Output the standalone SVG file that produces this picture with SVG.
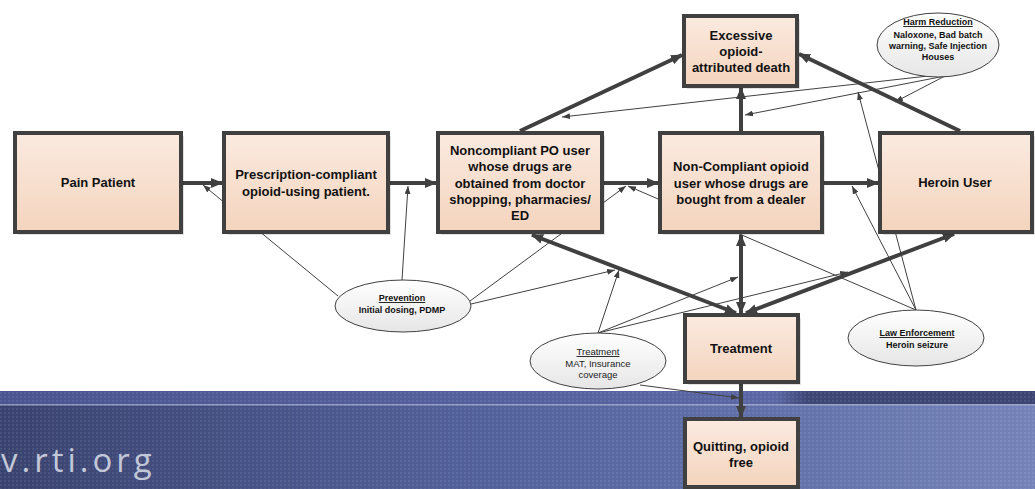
<svg xmlns="http://www.w3.org/2000/svg" width="1035" height="489" viewBox="0 0 1035 489">
<style>
.box{stroke:#404040;stroke-width:4;fill:url(#peach)}
.shadow{fill:#000;opacity:0.12}
.bt{font-family:"Liberation Sans",Arial,sans-serif;font-weight:bold;font-size:13px;fill:#111;text-anchor:middle}
.et{font-family:"Liberation Sans",Arial,sans-serif;font-weight:bold;font-size:9px;fill:#111;text-anchor:middle}
.er{font-family:"Liberation Sans",Arial,sans-serif;font-size:9.5px;fill:#222;text-anchor:middle}
.ell{fill:url(#gray);stroke:#404040;stroke-width:1}
.thick{stroke:#404040;stroke-width:4;fill:none}
.thin{stroke:#404040;stroke-width:1;fill:none;marker-end:url(#ahs)}
.u{text-decoration:underline}
</style>
<defs>
<linearGradient id="peach" x1="0" y1="0" x2="0" y2="1">
<stop offset="0" stop-color="#fbeae0"/>
<stop offset="1" stop-color="#f4d4bd"/>
</linearGradient>
<linearGradient id="gray" x1="0" y1="0" x2="0" y2="1">
<stop offset="0" stop-color="#ffffff"/>
<stop offset="1" stop-color="#e6e6e6"/>
</linearGradient>
<linearGradient id="band" x1="0" y1="0" x2="1" y2="0">
<stop offset="0" stop-color="#3a436f"/>
<stop offset="0.45" stop-color="#52609a"/>
<stop offset="0.75" stop-color="#6371aa"/>
<stop offset="1" stop-color="#7583ba"/>
</linearGradient>
<linearGradient id="strip" x1="0" y1="0" x2="1" y2="0">
<stop offset="0" stop-color="#4a5490"/>
<stop offset="0.75" stop-color="#5a67a4"/>
<stop offset="0.78" stop-color="#3e4676"/>
<stop offset="1" stop-color="#3c4473"/>
</linearGradient>
<pattern id="dots" width="4" height="4" patternUnits="userSpaceOnUse">
<rect x="0" y="0" width="2" height="2" fill="#ffffff" opacity="0.08"/>
</pattern>
<marker id="ah" viewBox="0 0 12 10" refX="11" refY="5" markerWidth="12" markerHeight="10" markerUnits="userSpaceOnUse" orient="auto-start-reverse">
<path d="M0,0 L12,5 L0,10 z" fill="#404040"/>
</marker>
<marker id="ahs" viewBox="0 0 8 6" refX="8" refY="3" markerWidth="8" markerHeight="6" markerUnits="userSpaceOnUse" orient="auto">
<path d="M0,0 L8,3 L0,6 z" fill="#404040"/>
</marker>
</defs>

<rect width="1035" height="489" fill="#ffffff"/>

<g id="banner">
<rect x="0" y="391" width="1035" height="98" fill="url(#band)"/>
<rect x="0" y="391" width="1035" height="13" fill="url(#strip)"/>
<rect x="0" y="404" width="1035" height="1.5" fill="#a3abd0" opacity="0.8"/>
<rect x="0" y="391" width="1035" height="98" fill="url(#dots)"/>
<text x="1" y="472" font-family="'Open Sans',sans-serif" font-size="33" letter-spacing="4" fill="#c3c8d8">v.rti.org</text>
</g>

<g id="connectors">
<line class="thick" x1="183" y1="183" x2="222" y2="183" marker-end="url(#ah)"/>
<line class="thick" x1="390" y1="183" x2="436" y2="183" marker-end="url(#ah)"/>
<line class="thick" x1="604" y1="183" x2="658" y2="183" marker-end="url(#ah)"/>
<line class="thick" x1="824" y1="183" x2="878" y2="183" marker-end="url(#ah)"/>
<line class="thick" x1="520" y1="131" x2="682" y2="55" marker-end="url(#ah)"/>
<line class="thick" x1="741" y1="131" x2="741" y2="88" marker-end="url(#ah)"/>
<line class="thick" x1="960" y1="131" x2="799" y2="54" marker-end="url(#ah)"/>
<line class="thick" x1="532" y1="235" x2="736" y2="313" marker-start="url(#ah)" marker-end="url(#ah)"/>
<line class="thick" x1="741" y1="235" x2="741" y2="313" marker-start="url(#ah)" marker-end="url(#ah)"/>
<line class="thick" x1="954" y1="234" x2="746" y2="313" marker-start="url(#ah)" marker-end="url(#ah)"/>
<line class="thick" x1="741" y1="384" x2="741" y2="417" stroke-width="3" marker-end="url(#ah)"/>

<line class="thin" x1="338" y1="296" x2="203" y2="185"/>
<line class="thin" x1="402" y1="280" x2="408" y2="186"/>
<line class="thin" x1="470" y1="301" x2="626" y2="186"/>
<line class="thin" x1="471" y1="304" x2="615" y2="270"/>

<line class="thin" x1="598" y1="333" x2="619" y2="270"/>
<line class="thin" x1="598" y1="333" x2="738" y2="277"/>
<line class="thin" x1="598" y1="333" x2="848" y2="272"/>
<line class="thin" x1="640" y1="385" x2="739" y2="398"/>

<line class="thin" x1="916" y1="310" x2="628" y2="186"/>
<line class="thin" x1="916" y1="310" x2="852" y2="186"/>
<line class="thin" x1="916" y1="310" x2="858" y2="92"/>

<line class="thin" x1="945" y1="76" x2="895" y2="102"/>
<line class="thin" x1="945" y1="76" x2="745" y2="115"/>
<line class="thin" x1="937" y1="75" x2="562" y2="117"/>
</g>

<g id="pain-patient">
<rect class="shadow" x="18" y="136" width="166" height="99"/>
<rect class="box" x="15" y="133" width="166" height="99"/>
<text class="bt" x="98" y="187">Pain Patient</text>
</g>

<g id="prescription-compliant">
<rect class="shadow" x="227" y="136" width="164" height="99"/>
<rect class="box" x="224" y="133" width="164" height="99"/>
<text class="bt" x="306" y="179">Prescription-compliant</text>
<text class="bt" x="306" y="196">opioid-using patient.</text>
</g>

<g id="noncompliant-po">
<rect class="shadow" x="441" y="136" width="164" height="99"/>
<rect class="box" x="438" y="133" width="164" height="99"/>
<text class="bt" x="520" y="155">Noncompliant PO user</text>
<text class="bt" x="520" y="171">whose drugs are</text>
<text class="bt" x="520" y="187.5">obtained from doctor</text>
<text class="bt" x="520" y="204">shopping, pharmacies/</text>
<text class="bt" x="520" y="220">ED</text>
</g>

<g id="noncompliant-dealer">
<rect class="shadow" x="663" y="136" width="162" height="99"/>
<rect class="box" x="660" y="133" width="162" height="99"/>
<text class="bt" x="741" y="171">Non-Compliant opioid</text>
<text class="bt" x="741" y="187.5">user whose drugs are</text>
<text class="bt" x="741" y="204">bought from a dealer</text>
</g>

<g id="heroin-user">
<rect class="shadow" x="883" y="136" width="152" height="99"/>
<rect class="box" x="880" y="133" width="152" height="99"/>
<text class="bt" x="955" y="187">Heroin User</text>
</g>

<g id="excessive-death">
<rect class="shadow" x="687" y="19" width="113" height="70"/>
<rect class="box" x="684" y="16" width="113" height="70"/>
<text class="bt" x="741" y="39.5">Excessive</text>
<text class="bt" x="741" y="55.5">opioid-</text>
<text class="bt" x="741" y="72">attributed death</text>
</g>

<g id="treatment">
<rect class="shadow" x="688" y="318" width="113" height="67"/>
<rect class="box" x="685" y="315" width="113" height="67"/>
<text class="bt" x="741" y="353" font-size="14">Treatment</text>
</g>

<g id="quitting">
<rect class="box" x="685" y="419" width="113" height="68"/>
<text class="bt" x="741" y="451" font-size="12">Quitting, opioid</text>
<text class="bt" x="741" y="467" font-size="12">free</text>
</g>

<g id="harm-reduction">
<ellipse class="ell" cx="938" cy="45" rx="61" ry="32"/>
<text class="et u" x="938" y="25">Harm Reduction</text>
<text class="et" x="938" y="38">Naloxone, Bad batch</text>
<text class="et" x="938" y="49">warning, Safe Injection</text>
<text class="et" x="938" y="60">Houses</text>
</g>

<g id="prevention">
<ellipse class="ell" cx="403" cy="306" rx="68" ry="26"/>
<text class="et u" x="402" y="301">Prevention</text>
<text class="et" x="402" y="313">Initial dosing, PDMP</text>
</g>

<g id="treatment-intervention">
<ellipse class="ell" cx="598" cy="361" rx="68" ry="28"/>
<text class="er u" x="598" y="355">Treatment</text>
<text class="er" x="598" y="366.5">MAT, Insurance</text>
<text class="er" x="598" y="378">coverage</text>
</g>

<g id="law-enforcement">
<ellipse class="ell" cx="916" cy="338" rx="68" ry="28"/>
<text class="et u" x="917" y="336">Law Enforcement</text>
<text class="et" x="917" y="348">Heroin seizure</text>
</g>
</svg>
